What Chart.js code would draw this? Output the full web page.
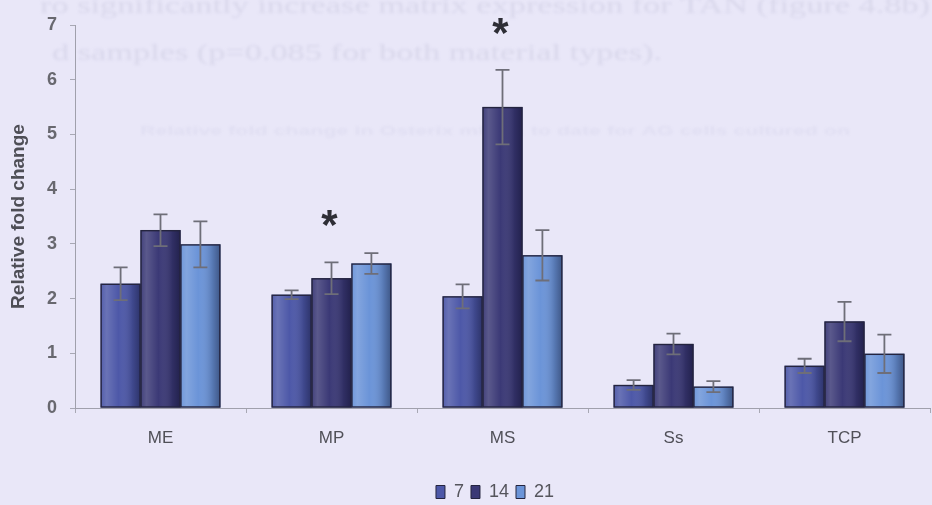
<!DOCTYPE html>
<html>
<head>
<meta charset="utf-8">
<script src="https://cdn.jsdelivr.net/npm/chart.js@4.4.1/dist/chart.umd.min.js"></script>
<style>
  html, body { margin: 0; padding: 0; background: #e9e7f8; }
  #wrap { width: 932px; height: 505px; position: relative; }
  canvas { display: block; }
</style>
</head>
<body>
<div id="wrap"><canvas id="c" width="932" height="505"></canvas></div>
<script>
// Relative fold change per material, days 7 / 14 / 21
const categories = ['ME', 'MP', 'MS', 'Ss', 'TCP'];
const seriesNames = ['7', '14', '21'];
const day7  = [2.27, 2.07, 2.04, 0.42, 0.77];
const day14 = [3.25, 2.37, 5.50, 1.17, 1.58];
const day21 = [2.99, 2.64, 2.79, 0.39, 0.99];
const err7  = [0.30, 0.08, 0.22, 0.09, 0.13];
const err14 = [0.29, 0.29, 0.68, 0.19, 0.36];
const err21 = [0.42, 0.19, 0.46, 0.10, 0.35];
// significance markers on the day-14 bars
const starred14 = [false, true, true, false, false];
const yTicks = [0, 1, 2, 3, 4, 5, 6, 7];

const seriesColors = ['#4d58a8', '#3b3976', '#6b94d8'];
const errors = [err7, err14, err21];
const FONT = '"Liberation Sans", Arial, sans-serif';

// page text showing through from the other side of the sheet
const throughText = [
  { text: 'ro significantly increase matrix expression for TAN (figure 4.8b)', x: 40, y: 13, size: 24, w: 890, alpha: 0.12, serif: true },
  { text: 'd samples (p=0.085 for both material types).', x: 52, y: 60, size: 24, w: 610, alpha: 0.12, serif: true },
  { text: 'Relative fold change in Osterix mRNA to date for AG cells cultured on', x: 140, y: 135, size: 13, w: 710, alpha: 0.06, serif: false }
];

const backdrop = {
  id: 'backdrop',
  beforeDraw(chart) {
    const ctx = chart.ctx;
    ctx.save();
    ctx.fillStyle = '#e9e7f8';
    ctx.fillRect(0, 0, chart.width, chart.height);
    throughText.forEach(t => {
      ctx.save();
      ctx.filter = 'blur(1.6px)';
      ctx.fillStyle = 'rgba(110,108,145,' + t.alpha + ')';
      ctx.font = (t.serif ? '' : 'bold ') + t.size + 'px ' + (t.serif ? '"Liberation Serif", serif' : FONT);
      ctx.textBaseline = 'alphabetic';
      const natural = ctx.measureText(t.text).width;
      ctx.translate(t.x, t.y);
      ctx.scale(t.w / natural, 1);
      ctx.fillText(t.text, 0, 0);
      ctx.restore();
    });
    ctx.restore();
  }
};

// nudges the legend row to sit under the bars' centre
const legendShift = {
  id: 'legendShift',
  afterLayout(chart) {
    const lg = chart.legend;
    if (!lg) return;
    lg.left += 30; lg.right += 30;
    lg.top += 6; lg.bottom += 6;
  }
};

// cylinder-like shading, error bars and significance stars
const barDecor = {
  id: 'barDecor',
  afterDatasetsDraw(chart) {
    const ctx = chart.ctx;
    const yScale = chart.scales.y;
    chart.data.datasets.forEach((ds, di) => {
      const meta = chart.getDatasetMeta(di);
      meta.data.forEach((bar) => {
        const p = bar.getProps(['x', 'y', 'base', 'width'], true);
        const left = p.x - p.width / 2;
        const g = ctx.createLinearGradient(left, 0, left + p.width, 0);
        g.addColorStop(0, 'rgba(255,255,255,0.04)');
        g.addColorStop(0.15, 'rgba(255,255,255,0.16)');
        g.addColorStop(0.45, 'rgba(255,255,255,0.0)');
        g.addColorStop(0.8, 'rgba(0,0,20,0.18)');
        g.addColorStop(1, 'rgba(0,0,20,0.42)');
        ctx.save();
        ctx.fillStyle = g;
        ctx.fillRect(left, p.y, p.width, p.base - p.y);
        ctx.strokeStyle = '#24243f';
        ctx.lineWidth = 1.4;
        ctx.strokeRect(left + 0.5, p.y + 0.5, p.width - 1, p.base - p.y - 1);
        ctx.restore();
      });
    });
    chart.data.datasets.forEach((ds, di) => {
      const meta = chart.getDatasetMeta(di);
      meta.data.forEach((bar, i) => {
        const p = bar.getProps(['x', 'y'], true);
        const v = ds.data[i];
        const e = errors[di][i];
        const yt = yScale.getPixelForValue(v + e);
        const yb = yScale.getPixelForValue(v - e);
        ctx.save();
        ctx.strokeStyle = '#6e6e78';
        ctx.lineWidth = 1.8;
        ctx.beginPath();
        ctx.moveTo(p.x, yt); ctx.lineTo(p.x, yb);
        ctx.moveTo(p.x - 7, yt); ctx.lineTo(p.x + 7, yt);
        ctx.moveTo(p.x - 7, yb); ctx.lineTo(p.x + 7, yb);
        ctx.stroke();
        ctx.restore();
        if (di === 1 && starred14[i]) {
          ctx.save();
          ctx.fillStyle = '#2e2e36';
          ctx.font = 'bold 42px ' + FONT;
          ctx.textAlign = 'center';
          ctx.textBaseline = 'alphabetic';
          ctx.fillText('*', p.x - 2, yt - 23);
          ctx.restore();
        }
      });
    });
  }
};

const values = [day7, day14, day21];
const chart = new Chart(document.getElementById('c'), {
  type: 'bar',
  data: {
    labels: categories,
    datasets: seriesNames.map((name, k) => ({
      label: name,
      data: values[k],
      backgroundColor: seriesColors[k],
      borderColor: '#24243f',
      borderWidth: 0,
      categoryPercentage: 0.7,
      barPercentage: 1.0
    }))
  },
  options: {
    responsive: false,
    animation: false,
    devicePixelRatio: 1,
    layout: { padding: { top: 25, right: 2, left: 0, bottom: 0 } },
    plugins: {
      tooltip: { enabled: false },
      legend: {
        position: 'bottom',
        labels: {
          boxWidth: 9,
          boxHeight: 13,
          padding: 7,
          color: '#55555c',
          font: { family: FONT, size: 18 },
          generateLabels(chart) {
            return chart.data.datasets.map((ds, k) => ({
              text: ds.label,
              fillStyle: seriesColors[k],
              strokeStyle: '#24243f',
              lineWidth: 1,
              fontColor: '#55555c',
              datasetIndex: k,
              hidden: false
            }));
          }
        }
      }
    },
    scales: {
      x: {
        grid: { display: true, drawOnChartArea: false, drawTicks: true, tickLength: 5, color: '#a8a8b4', offset: true },
        border: { display: true, color: '#a0a0ac', width: 1 },
        ticks: {
          color: '#505058',
          padding: 15,
          font: { family: FONT, size: 17 }
        },
        afterFit(scale) { scale.height = 62; }
      },
      y: {
        min: 0,
        max: 7,
        afterBuildTicks(scale) { scale.ticks = yTicks.map(v => ({ value: v })); },
        grid: { display: true, drawOnChartArea: false, drawTicks: true, tickLength: 5, color: '#a8a8b4' },
        border: { display: true, color: '#a0a0ac', width: 1 },
        ticks: {
          color: '#68686f',
          padding: 13,
          font: { family: FONT, size: 18, weight: 'bold' }
        },
        title: {
          display: true,
          text: 'Relative fold change',
          color: '#4e4e56',
          padding: { top: 7, bottom: 0 },
          font: { family: FONT, size: 19, weight: 'bold' }
        },
        afterFit(scale) { scale.width = 75; }
      }
    }
  },
  plugins: [backdrop, legendShift, barDecor]
});
</script>
</body>
</html>
